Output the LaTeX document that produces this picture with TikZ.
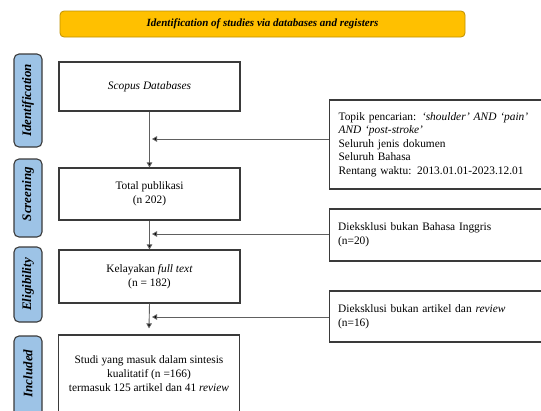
\documentclass[tikz,border=0pt]{standalone}
\usepackage{fontspec}
\setmainfont{Liberation Serif}
\usetikzlibrary{arrows.meta}
\definecolor{hdrfill}{HTML}{FFC000}
\definecolor{hdrdraw}{HTML}{BF9000}
\definecolor{sidefill}{HTML}{9DC3E6}
\definecolor{boxdraw}{HTML}{3A3A3A}
\definecolor{linecol}{HTML}{606060}
\begin{document}
\begin{tikzpicture}[x=1pt,y=-1pt,
  hdr/.style={draw=hdrdraw,fill=hdrfill,rounded corners=4pt,line width=0.8pt,minimum width=405pt,minimum height=26pt,inner sep=0pt,font=\fontsize{11}{13}\selectfont\bfseries\itshape},
  side/.style={draw=boxdraw,fill=sidefill,rounded corners=5pt,line width=1.1pt,minimum width=28pt,inner sep=0pt},
  sidetxt/.style={rotate=90,font=\fontsize{13}{15}\selectfont\bfseries\itshape},
  mainbox/.style={draw=boxdraw,line width=1.2pt,minimum width=181pt,inner sep=2pt,align=center,font=\fontsize{11.4}{13.6}\selectfont},
  infobox/.style={draw=boxdraw,line width=1.2pt,anchor=west,inner xsep=9pt,inner ysep=2pt,text width=202pt,align=left,font=\fontsize{11.4}{13.6}\selectfont},
  conn/.style={draw=linecol,line width=0.9pt},
  arr/.style={conn,-{Triangle[length=5pt,width=5.5pt,fill=black]}}
]
\useasboundingbox (0,0) rectangle (541,410);

% header
\node[hdr] (head) at (262.5,24) {Identification of studies via databases and registers};

% side labels
\node[side,minimum height=93pt] (sid) at (28,100.5) {};
\node[sidetxt] (sidt) at (sid.center) {Identification};
\node[side,minimum height=78pt] (sscr) at (28,198) {};
\node[sidetxt] (sscrt) at (28,194) {Screening};
\node[side,minimum height=75pt] (selg) at (28,284.5) {};
\node[sidetxt] (selgt) at (selg.center) {Eligibility};
\node[side,minimum height=80pt] (sinc) at (28,376) {};
\node[sidetxt] (sinct) at (28,373.5) {Included};

% main boxes
\node[mainbox,minimum height=49pt] (scopus) at (149.5,86.5) {\itshape Scopus Databases};
\node[mainbox,minimum height=52pt] (total) at (149.5,194) {Total publikasi\\(n 202)};
\node[mainbox,minimum height=53pt] (kel) at (149.5,276.5) {Kelayakan \textit{full text}\\(n = 182)};
\node[mainbox,minimum height=77pt] (studi) at (149,373.5) {Studi yang masuk dalam sintesis\\kualitatif (n =166)\\termasuk 125 artikel dan 41 \textit{review}};

% info boxes
\node[infobox,minimum height=89pt] (topik) at (329,144.5) {Topik pencarian: \textit{`shoulder' AND `pain'}\\\textit{AND `post-stroke'}\\Seluruh jenis dokumen\\Seluruh Bahasa\\Rentang waktu: 2013.01.01-2023.12.01};
\node[infobox,minimum height=52pt] (exc1) at (328.5,235) {Dieksklusi bukan Bahasa Inggris\\(n=20)};
\node[infobox,minimum height=51pt] (exc2) at (328.5,316.5) {Dieksklusi bukan artikel dan \textit{review}\\(n=16)};

% vertical flow
\draw[arr] (scopus.south) -- (total.north);
\draw[arr] (total.south) -- (kel.north);
\draw[arr] (kel.south) -- ([yshift=6pt]studi.north);

% horizontal connectors
\coordinate (h1) at (152,139);
\coordinate (h2) at (152,234);
\coordinate (h3) at (152,317);
\draw[arr] (topik.west |- h1) -- (h1);
\draw[arr] (exc1.west |- h2) -- (h2);
\draw[arr] (exc2.west |- h3) -- (h3);
\end{tikzpicture}
\end{document}
